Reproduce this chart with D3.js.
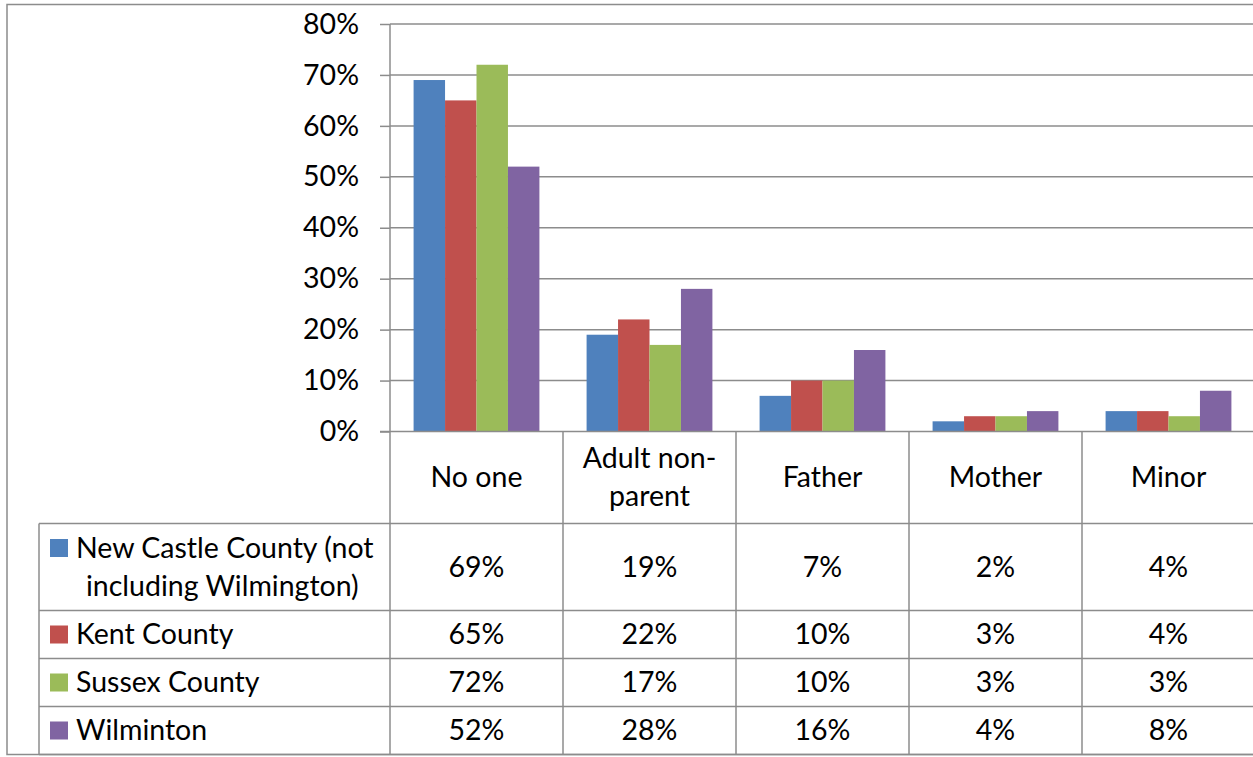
<!DOCTYPE html>
<html>
<head>
<meta charset="utf-8">
<script src="https://cdn.jsdelivr.net/npm/d3@7"></script>
<style>
  html, body { margin: 0; padding: 0; background: #fff; }
  svg { display: block; }
  text { font-family: Lato, "Open Sans", sans-serif; fill: #000; }
</style>
</head>
<body>
<svg id="chart" width="1253" height="757"></svg>
<script>
// Who the respondent lives with, by county
const categories = ["No one", "Adult non-parent", "Father", "Mother", "Minor"];
const categoryLines = [["No one"], ["Adult non-", "parent"], ["Father"], ["Mother"], ["Minor"]];
const seriesNames = ["New Castle County (not including Wilmington)", "Kent County", "Sussex County", "Wilminton"];
const seriesLines = [["New Castle County (not", "including Wilmington)"], ["Kent County"], ["Sussex County"], ["Wilminton"]];
const seriesColors = ["#4F81BD", "#C0504D", "#9BBB59", "#8064A2"];
const newCastle = [0.69, 0.19, 0.07, 0.02, 0.04];
const kent      = [0.65, 0.22, 0.10, 0.03, 0.04];
const sussex    = [0.72, 0.17, 0.10, 0.03, 0.03];
const wilminton = [0.52, 0.28, 0.16, 0.04, 0.08];
const seriesValues = [newCastle, kent, sussex, wilminton];
const yTicks = [0, 0.1, 0.2, 0.3, 0.4, 0.5, 0.6, 0.7, 0.8];

const svg = d3.select("#chart");
const gridColor = "#8c8c8c";
const fontSize = 28.5;

// Plot geometry
const plotLeft = 390, plotRight = 1255, plotTop = 24, plotBottom = 431.5;
const tableLeft = 39;
const headerBottom = 523.5;
const rowBottoms = [610.5, 658.5, 706.5, 754.5];

const x0 = d3.scaleBand().domain(categories).range([plotLeft, plotRight]).padding(0);
const bw = x0.bandwidth();
const gapWidth = 1.5; // gap between groups relative to one bar
const barW = bw / (seriesNames.length + gapWidth);
const x1 = d3.scaleBand().domain(d3.range(seriesNames.length))
  .range([barW * gapWidth / 2, bw - barW * gapWidth / 2]).padding(0);
const y = d3.scaleLinear().domain([0, 0.8]).range([plotBottom, plotTop]);

// Outer chart border
svg.append("rect").attr("x", 7).attr("y", 4.5).attr("width", 1300).attr("height", 750)
  .attr("fill", "none").attr("stroke", gridColor).attr("stroke-width", 1.5);

// Horizontal gridlines
svg.append("g").selectAll("line").data(yTicks.filter(d => d > 0)).join("line")
  .attr("x1", plotLeft).attr("x2", plotRight)
  .attr("y1", d => y(d)).attr("y2", d => y(d))
  .attr("stroke", gridColor).attr("stroke-width", 1.5);

// Y axis
const yAxis = d3.axisLeft(y).tickValues(yTicks).tickFormat(d3.format(".0%")).tickSize(10).tickPadding(21);
const yg = svg.append("g").attr("transform", `translate(${plotLeft},0)`).call(yAxis);
yg.select(".domain").remove();
yg.selectAll(".tick line").attr("stroke", gridColor).attr("stroke-width", 1.5);
yg.selectAll(".tick text").attr("font-size", fontSize).attr("font-family", "Lato, sans-serif").attr("fill", "#000");

// Bars
const groups = svg.append("g").selectAll("g").data(categories).join("g")
  .attr("transform", d => `translate(${x0(d)},0)`);
groups.selectAll("rect")
  .data((c, ci) => seriesValues.map((vals, si) => ({ si, v: vals[ci] })))
  .join("rect")
  .attr("x", d => x1(d.si)).attr("width", x1.bandwidth())
  .attr("y", d => y(d.v)).attr("height", d => y(0) - y(d.v))
  .attr("fill", d => seriesColors[d.si]);

// Table lines
const lines = svg.append("g").attr("stroke", gridColor).attr("stroke-width", 1.5);
// category axis line
lines.append("line").attr("x1", plotLeft - 10).attr("x2", plotRight).attr("y1", plotBottom).attr("y2", plotBottom);
// vertical value axis continues into the table
lines.append("line").attr("x1", plotLeft).attr("x2", plotLeft).attr("y1", plotTop).attr("y2", rowBottoms[3]);
// category dividers
categories.slice(1).forEach(c => {
  lines.append("line").attr("x1", x0(c)).attr("x2", x0(c)).attr("y1", plotBottom).attr("y2", rowBottoms[3]);
});
// row separators
[headerBottom, ...rowBottoms].forEach(yy => {
  lines.append("line").attr("x1", tableLeft).attr("x2", plotRight).attr("y1", yy).attr("y2", yy);
});
// legend column left edge
lines.append("line").attr("x1", tableLeft).attr("x2", tableLeft).attr("y1", headerBottom).attr("y2", rowBottoms[3]);

// Category header labels
const lineH = 38;
categories.forEach((c, i) => {
  const ls = categoryLines[i];
  const cy = (plotBottom + headerBottom) / 2;
  const t = svg.append("text").attr("text-anchor", "middle").attr("font-size", fontSize)
    .attr("x", x0(c) + bw / 2);
  ls.forEach((l, k) => {
    t.append("tspan").attr("x", x0(c) + bw / 2)
      .attr("y", cy + (k - (ls.length - 1) / 2) * lineH)
      .attr("dy", "0.35em").text(l);
  });
});

// Table rows: legend key, series name, values
const rowTops = [headerBottom, ...rowBottoms.slice(0, 3)];
seriesNames.forEach((s, si) => {
  const top = rowTops[si], bottom = rowBottoms[si];
  const cy = (top + bottom) / 2;
  const ls = seriesLines[si];
  const firstY = cy - (ls.length - 1) / 2 * lineH;
  svg.append("rect").attr("x", 50).attr("y", firstY - 9).attr("width", 18).attr("height", 18)
    .attr("fill", seriesColors[si]);
  const t = svg.append("text").attr("font-size", fontSize);
  ls.forEach((l, k) => {
    t.append("tspan").attr("x", k === 0 ? 76 : 86).attr("y", firstY + k * lineH)
      .attr("dy", "0.35em").text(l);
  });
  categories.forEach((c, ci) => {
    svg.append("text").attr("text-anchor", "middle").attr("font-size", fontSize)
      .attr("x", x0(c) + bw / 2).attr("y", cy).attr("dy", "0.35em")
      .text(d3.format(".0%")(seriesValues[si][ci]));
  });
});
</script>
</body>
</html>
